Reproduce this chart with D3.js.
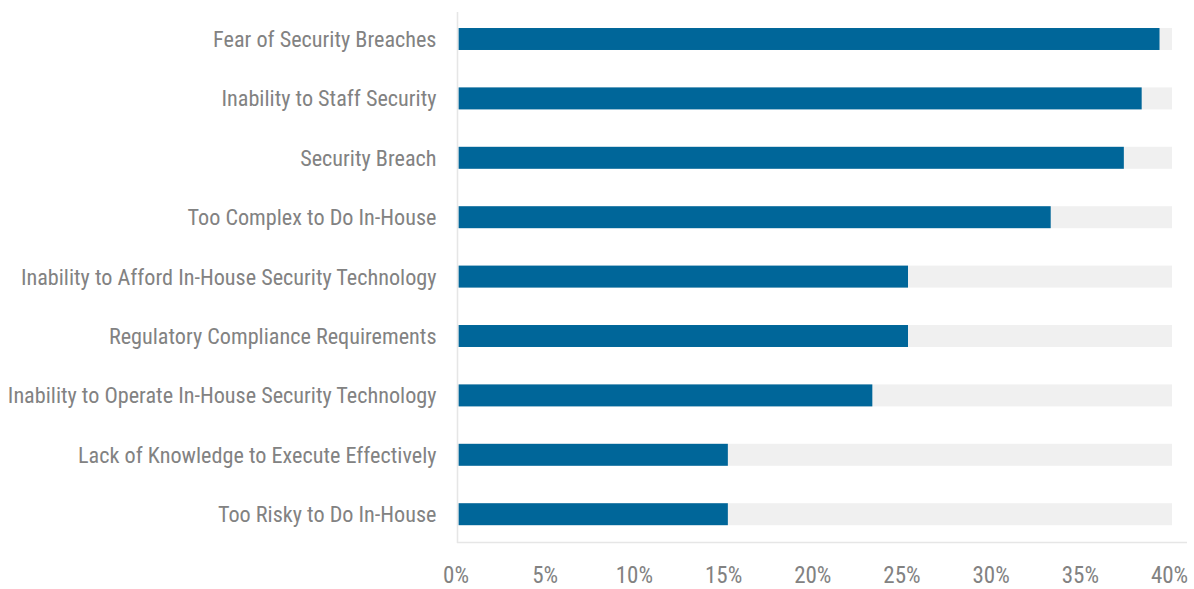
<!DOCTYPE html>
<html>
<head>
<meta charset="utf-8">
<script src="https://cdn.jsdelivr.net/npm/d3@7"></script>
<style>
  html, body { margin: 0; padding: 0; background: #fff; }
  svg text { font-family: "Liberation Sans Narrow", "Arial Narrow", "Roboto Condensed", "Liberation Sans", sans-serif; fill: #828282; }
</style>
</head>
<body>
<svg id="chart" width="1194" height="589"></svg>
<script>
// Reasons for outsourcing security, share of respondents (%)
const categories = [
  "Fear of Security Breaches",
  "Inability to Staff Security",
  "Security Breach",
  "Too Complex to Do In-House",
  "Inability to Afford In-House Security Technology",
  "Regulatory Compliance Requirements",
  "Inability to Operate In-House Security Technology",
  "Lack of Knowledge to Execute Effectively",
  "Too Risky to Do In-House"
];
const values = [39.3, 38.3, 37.3, 33.2, 25.2, 25.2, 23.2, 15.1, 15.1];
const tickValues = [0, 5, 10, 15, 20, 25, 30, 35, 40];
const domainMax = 40;

const svg = d3.select("#chart");

const x = d3.scaleLinear().domain([0, domainMax]).range([458.5, 1172]);
const y = d3.scaleBand()
  .domain(categories)
  .range([9.3, 543.9])
  .paddingInner(0.63)
  .paddingOuter(0.315);

// full-width track behind each bar
svg.append("g").selectAll("rect")
  .data(categories)
  .join("rect")
  .attr("x", x(0))
  .attr("y", d => y(d))
  .attr("width", x(domainMax) - x(0))
  .attr("height", y.bandwidth())
  .attr("fill", "#f0f0f0");

// value bars
svg.append("g").selectAll("rect")
  .data(categories)
  .join("rect")
  .attr("x", x(0))
  .attr("y", d => y(d))
  .attr("width", (d, i) => x(values[i]) - x(0))
  .attr("height", y.bandwidth())
  .attr("fill", "#006699");

// plot frame: left and bottom lines
svg.append("line")
  .attr("x1", 457.5).attr("x2", 457.5)
  .attr("y1", 12).attr("y2", 543)
  .attr("stroke", "#e6e6e6").attr("stroke-width", 1.6);
svg.append("line")
  .attr("x1", 457).attr("x2", 1187)
  .attr("y1", 542.5).attr("y2", 542.5)
  .attr("stroke", "#e6e6e6").attr("stroke-width", 1.4);

// category labels
const yAxis = d3.axisLeft(y).tickSize(0).tickPadding(22);
const gy = svg.append("g").attr("transform", `translate(${x(0)},0)`).call(yAxis);
gy.select(".domain").remove();
gy.selectAll("text").attr("font-size", 22.2).attr("fill", "#828282").attr("dy", "0.36em");

// percentage ticks
const xAxis = d3.axisBottom(x).tickValues(tickValues).tickSize(0).tickPadding(0)
  .tickFormat(d => d + "%");
const gx = svg.append("g").attr("transform", "translate(-3,583)").call(xAxis);
gx.select(".domain").remove();
gx.selectAll("text").attr("font-size", 23).attr("fill", "#828282").attr("dy", 0).attr("y", 0);
svg.selectAll("g").attr("font-family", null).attr("font-size", null);
</script>
</body>
</html>
